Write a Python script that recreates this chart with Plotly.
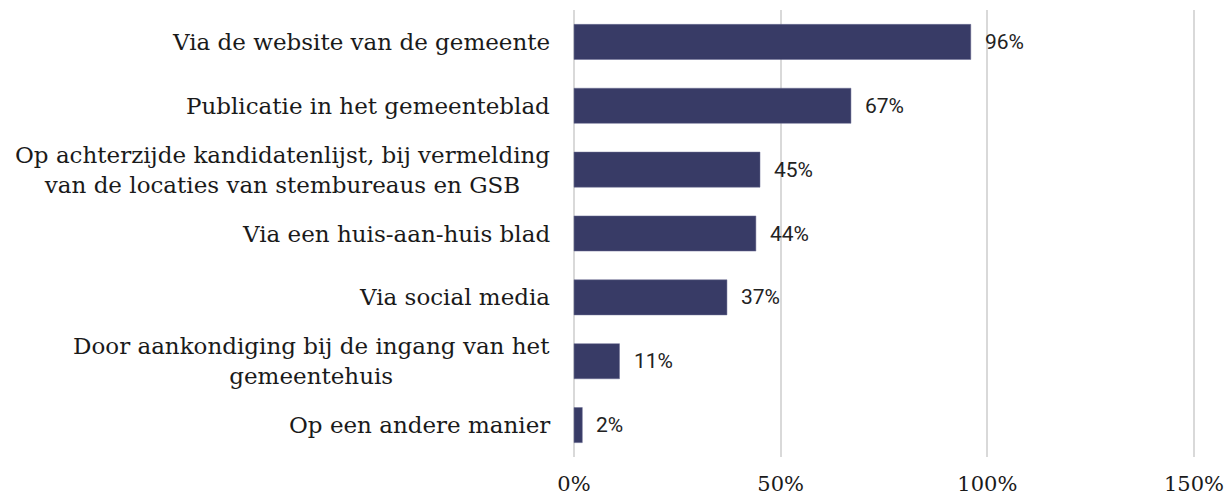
import plotly.graph_objects as go

# Survey answers: how residents were informed (share of municipalities)
categories = [
    "Via de website van de gemeente",
    "Publicatie in het gemeenteblad",
    "Op achterzijde kandidatenlijst, bij vermelding<br>van de locaties van stembureaus en GSB",
    "Via een huis-aan-huis blad",
    "Via social media",
    "Door aankondiging bij de ingang van het<br>gemeentehuis",
    "Op een andere manier",
]
values = [96, 67, 45, 44, 37, 11, 2]
tick_values = [0, 50, 100, 150]
tick_labels = ["0%", "50%", "100%", "150%"]

BAR_COLOR = "#383b66"
SERIF = "DejaVu Serif"
SANS = "Roboto"

fig = go.Figure(
    go.Bar(
        x=values,
        y=categories,
        orientation="h",
        marker=dict(color=BAR_COLOR, line=dict(color="#6a6d92", width=0.5)),
        width=0.55,
        hoverinfo="skip",
    )
)

# Value labels just past the end of each bar
for cat, v in zip(categories, values):
    fig.add_annotation(
        x=v, y=cat, xref="x", yref="y",
        text=f"{v}%", showarrow=False,
        xanchor="left", xshift=12,
        font=dict(family=SANS, size=21, color="#222222"),
    )

# Category labels, right-aligned block with centred lines
for cat in categories:
    fig.add_annotation(
        x=0, y=cat, xref="paper", yref="y",
        text=cat, showarrow=False,
        xanchor="right", xshift=-21, align="center",
        font=dict(family=SERIF, size=23, color="#1a1a1a"),
    )

fig.update_layout(
    width=1227, height=499,
    margin=dict(l=573, r=32, t=10, b=42),
    paper_bgcolor="white", plot_bgcolor="white",
    showlegend=False,
    xaxis=dict(
        range=[-0.25, 150.25],
        tickvals=tick_values, ticktext=tick_labels,
        showgrid=True, gridcolor="#d9d9d9", gridwidth=1.5,
        zeroline=False, showline=False,
        tickfont=dict(family=SERIF, size=21, color="#1a1a1a"),
        ticklabelstandoff=12,
        automargin=False,
    ),
    yaxis=dict(
        autorange="reversed",
        showticklabels=False,
        showgrid=False, zeroline=False,
        automargin=False,
    ),
)

fig.write_html("out.html")
